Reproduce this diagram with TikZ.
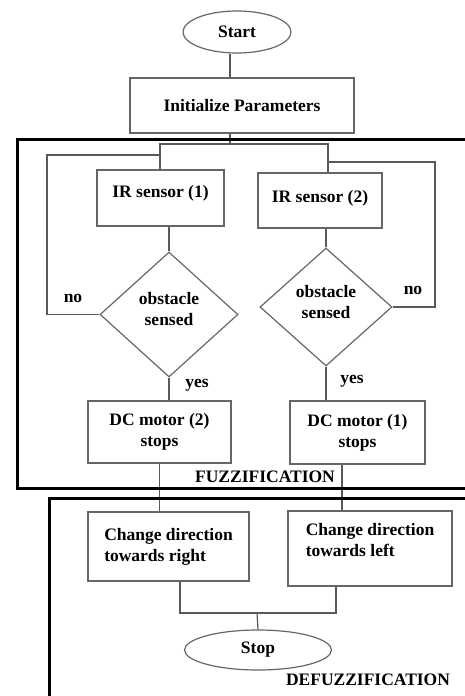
\documentclass[tikz,border=0pt]{standalone}
\usepackage{fontspec}
\setmainfont{Liberation Serif}
\usetikzlibrary{positioning,shapes.geometric}

\begin{document}
\begin{tikzpicture}[
  x=1pt, y=-1pt,
  font=\bfseries\fontsize{17.5}{21}\selectfont,
  termbox/.style={ellipse,draw=black!60,line width=1.2pt,inner sep=0pt},
  procbox/.style={rectangle,draw=black!60,line width=1.2pt,inner sep=0pt,align=center},
  decbox/.style={diamond,draw=black!60,line width=1.2pt,inner sep=0pt,align=center},
  lnk/.style={draw=black!65,line width=1.2pt},
  frame/.style={draw=black,line width=3pt}
]
\useasboundingbox (0,0) rectangle (465,696);
\clip (0,0) rectangle (465,696);

\node[termbox,minimum width=108pt,minimum height=42pt] (start) at (237,32) {Start};
\node[procbox,minimum width=224pt,minimum height=55pt] (init) at (242,105.5) {Initialize Parameters};
\node[procbox,minimum width=127pt,minimum height=56pt,text depth=14pt] (ir1) at (160.5,198) {IR sensor (1)};
\node[procbox,minimum width=124pt,minimum height=55pt,text depth=9pt] (ir2) at (320,200.5) {IR sensor (2)};
\node[decbox,minimum width=138pt,minimum height=125pt,text depth=12pt] (dia1) at (169,314.5) {obstacle\\sensed};
\node[decbox,minimum width=132pt,minimum height=118pt,text depth=10pt] (dia2) at (326,307) {obstacle\\sensed};
\node[procbox,minimum width=143pt,minimum height=62pt] (dc2) at (159.5,432) {DC motor (2)\\stops};
\node[procbox,minimum width=135pt,minimum height=63pt] (dc1) at (357.5,432.5) {DC motor (1)\\stops};
\node[procbox,align=left,minimum width=161pt,minimum height=69pt] (chr) at (168.5,546.5) {Change direction\\towards right};
\node[procbox,align=left,minimum width=164pt,minimum height=75pt,text depth=17pt] (chl) at (370,548.5) {Change direction\\towards left};
\node[termbox,minimum width=147pt,minimum height=40pt] (stop) at (258,650) {Stop};

% junction points
\coordinate (j0) at (230,144);
\coordinate (jl) at (160,144);
\coordinate (jr) at (328,144);
\coordinate (nol) at (47,155);
\coordinate (nor) at (435,162);
\coordinate (m1) at (342,0);
\coordinate (bl) at (180,613);
\coordinate (br) at (336,613);
\coordinate (bm) at (257,613);

\draw[lnk] (j0 |- start.south) -- (j0 |- init.north);
\draw[lnk] (j0 |- init.south) -- (j0);
\draw[lnk] (jl |- ir1.north) -- (jl) -- (jr) -- (jr |- ir2.north);
\draw[lnk] (dia1.north |- ir1.south) -- (dia1.north);
\draw[lnk] (dia2.north |- ir2.south) -- (dia2.north);
\draw[lnk] (dia1.west) -| (nol) -- (nol -| jl);
\draw[lnk] (dia2.east) -| (nor) -- (nor -| jr);
\draw[lnk] (dia1.south) -- (dia1.south |- dc2.north);
\draw[lnk] (dia2.south) -- (dia2.south |- dc1.north);
\draw[lnk] (dc2.south) -- (dc2.south |- chr.north);
\draw[lnk] (m1 |- dc1.south) -- (m1 |- chl.north);
\draw[lnk] (bl |- chr.south) -- (bl) -- (br) -- (br |- chl.south);
\draw[lnk] (bm) -- (stop.north);

\node (no1) at (73,298) {no};
\node (no2) at (413,290) {no};
\node (yes1) at (197,385) {yes};
\node (yes2) at (352,381) {yes};

% fuzzy stages
\draw[frame] (17,139) rectangle (490,488);
\draw[frame] (49,498) rectangle (490,697);
\node (fuzz) at (265,477) {FUZZIFICATION};
\node (defuzz) at (368,680) {DEFUZZIFICATION};
\end{tikzpicture}
\end{document}
